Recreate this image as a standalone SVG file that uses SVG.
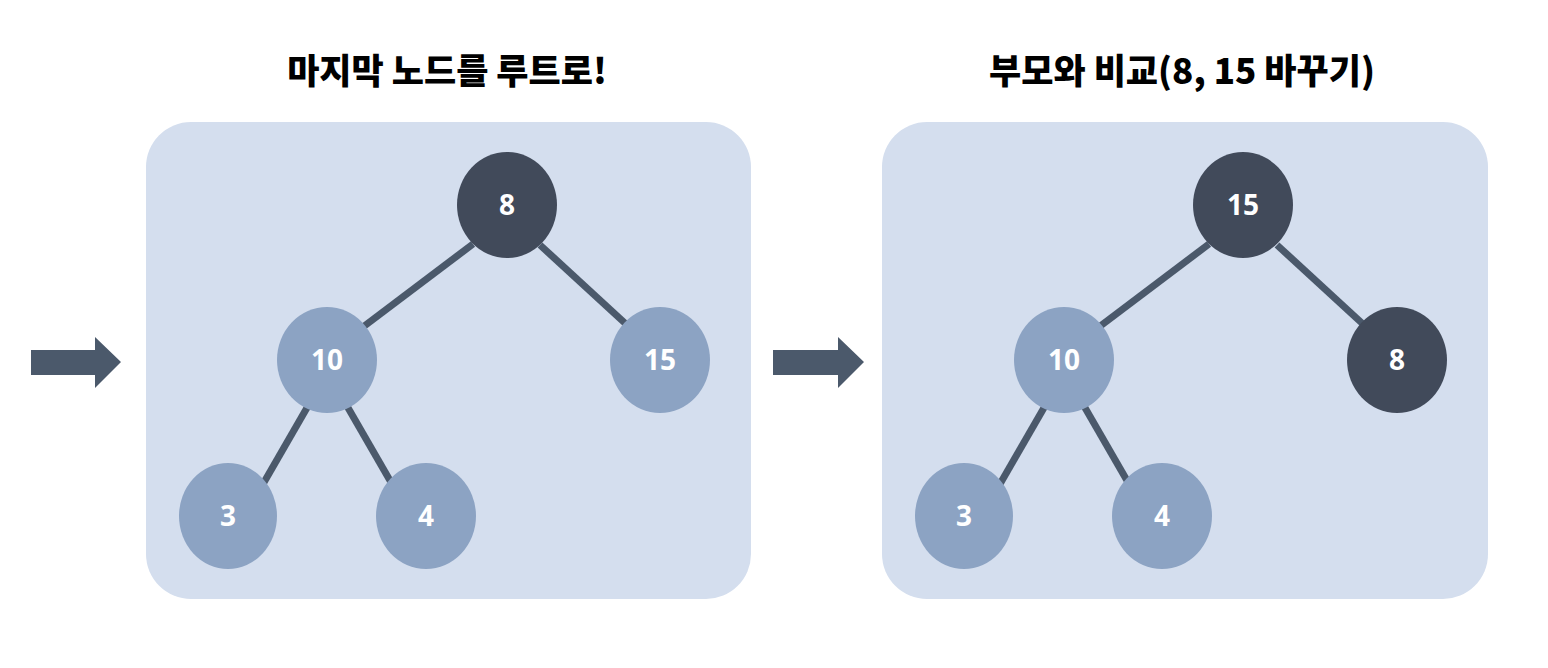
<svg xmlns="http://www.w3.org/2000/svg" width="1548" height="668" viewBox="0 0 1548 668">
<style>
.panel{fill:#d4deee}
.dark{fill:#414a5a}
.light{fill:#8ca3c3}
.edge{stroke:#4b596b;stroke-width:7;stroke-linecap:butt}
.arrow{fill:#4b596b}
.title{font-family:"Noto Sans CJK KR","Noto Sans",sans-serif;font-weight:900;font-size:35px;fill:#000;text-anchor:middle}
.lbl{font-family:"Noto Sans","Noto Sans CJK KR",sans-serif;font-weight:700;font-size:28px;fill:#fff;text-anchor:middle;dominant-baseline:central}
</style>
<rect width="1548" height="668" fill="#ffffff"/>
<g id="title-left"><text class="title" x="447" y="84">마지막 노드를 루트로!</text></g>
<g id="title-right"><text class="title" x="1182" y="84">부모와 비교(8, 15 바꾸기)</text></g>
<g id="panel-left"><rect class="panel" x="146" y="122" width="605" height="477" rx="45"/></g>
<g id="panel-right"><rect class="panel" x="882" y="122" width="606" height="477" rx="45"/></g>
<g id="arrows">
<polygon class="arrow" points="31,350 95,350 95,337 121,362 95,388 95,375 31,375"/>
<polygon class="arrow" points="773,350 838,350 838,337 864,362 838,388 838,375 773,375"/>
</g>
<g id="connectors">
<line class="edge" x1="473" y1="244" x2="363" y2="327"/>
<line class="edge" x1="540" y1="245" x2="627" y2="325"/>
<line class="edge" x1="308" y1="406" x2="263" y2="484"/>
<line class="edge" x1="347" y1="406" x2="392" y2="484"/>
<line class="edge" x1="1209" y1="244" x2="1099" y2="327"/>
<line class="edge" x1="1277" y1="245" x2="1364" y2="325"/>
<line class="edge" x1="1045" y1="406" x2="1000" y2="484"/>
<line class="edge" x1="1084" y1="406" x2="1129" y2="484"/>
</g>
<g id="node-l8"><ellipse class="dark" cx="507" cy="205" rx="50" ry="53"/><text class="lbl" x="507" y="204">8</text></g>
<g id="node-l10"><ellipse class="light" cx="327" cy="360" rx="50" ry="53"/><text class="lbl" x="327" y="359">10</text></g>
<g id="node-l15"><ellipse class="light" cx="660" cy="360" rx="50" ry="53"/><text class="lbl" x="660" y="359">15</text></g>
<g id="node-l3"><ellipse class="light" cx="228" cy="516" rx="49" ry="53"/><text class="lbl" x="228" y="515">3</text></g>
<g id="node-l4"><ellipse class="light" cx="426" cy="516" rx="50" ry="53"/><text class="lbl" x="426" y="515">4</text></g>
<g id="node-r15"><ellipse class="dark" cx="1243" cy="205" rx="50" ry="53"/><text class="lbl" x="1243" y="204">15</text></g>
<g id="node-r10"><ellipse class="light" cx="1064" cy="360" rx="50" ry="53"/><text class="lbl" x="1064" y="359">10</text></g>
<g id="node-r8"><ellipse class="dark" cx="1397" cy="360" rx="50" ry="53"/><text class="lbl" x="1397" y="359">8</text></g>
<g id="node-r3"><ellipse class="light" cx="964" cy="516" rx="49" ry="53"/><text class="lbl" x="964" y="515">3</text></g>
<g id="node-r4"><ellipse class="light" cx="1162" cy="516" rx="50" ry="53"/><text class="lbl" x="1162" y="515">4</text></g>
</svg>
